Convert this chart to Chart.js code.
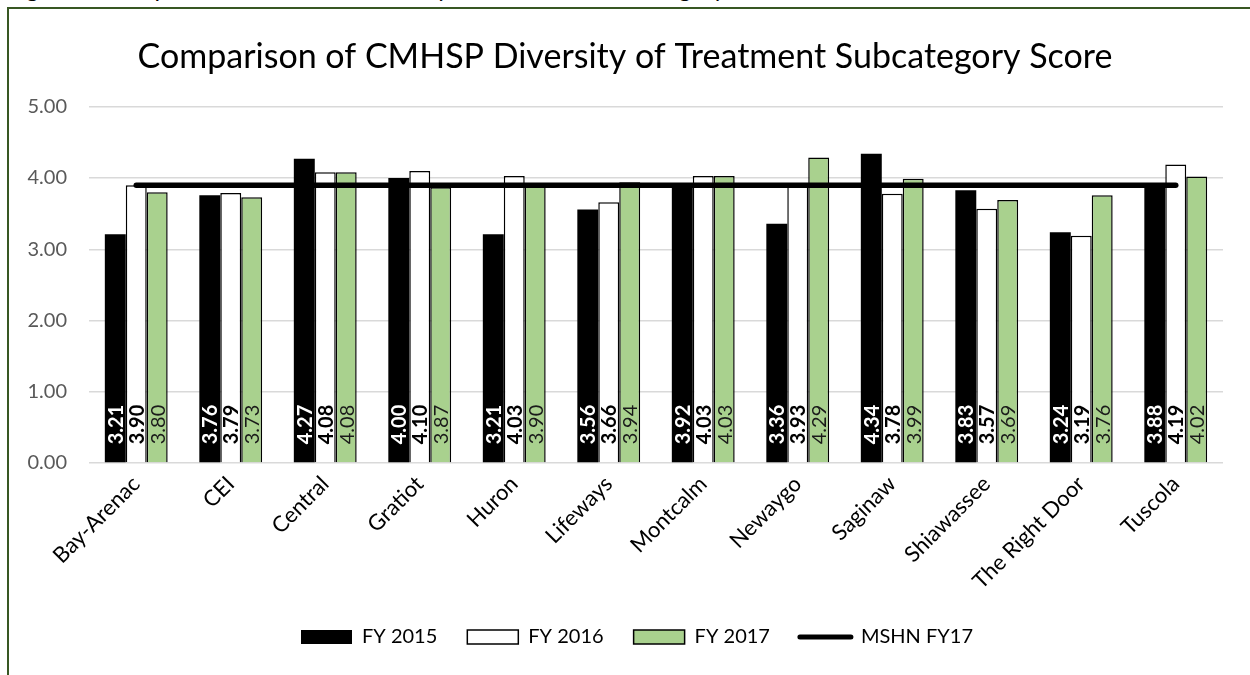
<!DOCTYPE html>
<html>
<head>
<meta charset="utf-8">
<script src="https://cdn.jsdelivr.net/npm/chart.js@4.4.0/dist/chart.umd.min.js"></script>
<style>
  html, body { margin: 0; padding: 0; background: #fff; overflow: hidden; }
  #wrap { position: relative; width: 1250px; height: 675px; overflow: hidden; }
  #caption { position: absolute; left: 7px; top: -24px; font: 24px Lato; line-height: 24px; white-space: nowrap; color: #000; }
  #frame { position: absolute; left: 7px; top: 7px; width: 1300px; height: 700px; border: 2px solid #385723; box-sizing: border-box; }
  #chart { position: absolute; left: 0; top: 0; }
</style>
</head>
<body>
<div id="wrap">
  <div id="caption">Figure 9: Comparison of CMHSP Diversity of Treatment Subcategory Score</div>
  <div id="frame"></div>
  <canvas id="chart" width="1250" height="675"></canvas>
</div>
<script>
// --- DATOS ---
const CATEGORIES = ['Bay-Arenac', 'CEI', 'Central', 'Gratiot', 'Huron', 'Lifeways',
    'Montcalm', 'Newaygo', 'Saginaw', 'Shiawassee', 'The Right Door', 'Tuscola'];
const FY2015 = [3.21, 3.76, 4.27, 4.00, 3.21, 3.56, 3.92, 3.36, 4.34, 3.83, 3.24, 3.88];
const FY2016 = [3.90, 3.79, 4.08, 4.10, 4.03, 3.66, 4.03, 3.93, 3.78, 3.57, 3.19, 4.19];
const FY2017 = [3.80, 3.73, 4.08, 3.87, 3.90, 3.94, 4.03, 4.29, 3.99, 3.69, 3.76, 4.02];
const MSHN_FY17 = [3.90, 3.90, 3.90, 3.90, 3.90, 3.90, 3.90, 3.90, 3.90, 3.90, 3.90, 3.90];
const Y_MIN = 0;
const Y_MAX = 5;
const Y_STEP = 1;

const FONT = 'Lato';

// --- ETIQUETAS DENTRO DE LAS BARRAS (base, giradas) ---
const barLabels = {
    id: 'barLabels',
    afterDatasetsDraw(chart) {
        const ctx = chart.ctx;
        chart.data.datasets.forEach((ds, i) => {
            if (ds.type === 'line') return;
            const meta = chart.getDatasetMeta(i);
            meta.data.forEach((bar, j) => {
                ctx.save();
                ctx.translate(bar.x, bar.base - 18);
                ctx.rotate(-Math.PI / 2);
                ctx.font = ds.labelFont;
                ctx.fillStyle = ds.labelColor;
                ctx.textAlign = 'left';
                ctx.textBaseline = 'middle';
                ctx.fillText(ds.data[j].toFixed(2), 0, 1);
                ctx.restore();
            });
        });
    }
};

// el titulo y la leyenda del original no estan centrados en el mismo eje
const shiftBlocks = {
    id: 'shiftBlocks',
    afterLayout(chart) {
        chart.titleBlock.left += 10;
        chart.titleBlock.right += 10;
        chart.legend.left += 22;
        chart.legend.right += 22;
    }
};

new Chart(document.getElementById('chart'), {
    type: 'bar',
    data: {
        labels: CATEGORIES,
        datasets: [
            {
                label: 'FY 2015', data: FY2015,
                backgroundColor: '#000000', borderWidth: 0,
                labelFont: 'bold 20px ' + FONT, labelColor: '#ffffff', order: 1
            },
            {
                label: 'FY 2016', data: FY2016,
                backgroundColor: '#ffffff', borderColor: '#000000', borderWidth: 1.5,
                labelFont: 'bold 20px ' + FONT, labelColor: '#000000', order: 1
            },
            {
                label: 'FY 2017', data: FY2017,
                backgroundColor: '#a9d18e', borderColor: '#000000', borderWidth: 1.5,
                labelFont: '20px ' + FONT, labelColor: '#1a1a1a', order: 1
            },
            {
                type: 'line', label: 'MSHN FY17', data: MSHN_FY17,
                borderColor: '#000000', backgroundColor: '#000000', borderWidth: 5.5,
                borderCapStyle: 'round', pointRadius: 0, pointHoverRadius: 0, order: 0
            }
        ]
    },
    options: {
        responsive: false,
        animation: false,
        categoryPercentage: 0.665,
        barPercentage: 1.0,
        layout: { padding: { left: 7, right: 27, top: 20, bottom: 18 } },
        plugins: {
            title: {
                display: true,
                text: 'Comparison of CMHSP Diversity of Treatment Subcategory Score',
                color: '#000000',
                font: { family: FONT, size: 34, weight: 'normal' },
                padding: { top: 17, bottom: 29 }
            },
            legend: {
                position: 'bottom',
                labels: {
                    usePointStyle: true,
                    pointStyleWidth: 51,
                    boxHeight: 14,
                    padding: 30,
                    color: '#000000',
                    font: { family: FONT, size: 20 },
                    sort: (a, b) => a.datasetIndex - b.datasetIndex,
                    generateLabels(chart) {
                        const items = Chart.defaults.plugins.legend.labels.generateLabels(chart);
                        items.forEach(it => {
                            const ds = chart.data.datasets[it.datasetIndex];
                            if (ds.type === 'line') {
                                it.pointStyle = 'line';
                                it.lineWidth = 5;
                                it.lineCap = 'round';
                                it.strokeStyle = '#000000';
                            } else {
                                it.pointStyle = 'rect';
                                it.lineWidth = ds.borderWidth;
                            }
                        });
                        return items;
                    }
                }
            },
            tooltip: { enabled: false }
        },
        scales: {
            x: {
                grid: { display: false },
                border: { display: false },
                ticks: {
                    color: '#000000',
                    font: { family: FONT, size: 22 },
                    minRotation: 45, maxRotation: 45,
                    autoSkip: false, padding: 0
                },
                afterFit(scale) { scale.height = 134; }
            },
            y: {
                min: Y_MIN, max: Y_MAX,
                grid: { color: '#d9d9d9', lineWidth: 1.5, drawTicks: false },
                border: { display: false },
                ticks: {
                    stepSize: Y_STEP,
                    color: '#595959',
                    font: { family: FONT, size: 20 },
                    padding: 22,
                    callback: v => v.toFixed(2)
                },
                afterFit(scale) { scale.width = 82; }
            }
        }
    },
    plugins: [barLabels, shiftBlocks]
});
</script>
</body>
</html>
